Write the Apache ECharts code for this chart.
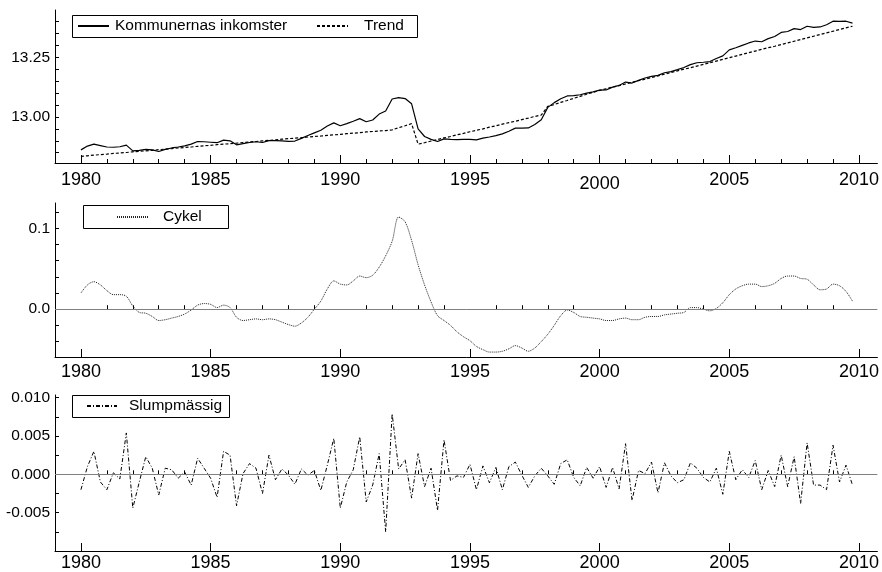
<!DOCTYPE html>
<html>
<head>
<meta charset="utf-8">
<script src="https://cdn.jsdelivr.net/npm/echarts@6/dist/echarts.min.js"></script>
<style>
html,body{margin:0;padding:0;background:#fff;}
#chart{width:882px;height:572px;}
</style>
</head>
<body>
<div id="chart"></div>
<script>
// Quarterly periods 1980Q1 .. 2009Q4 (decimal years)
const periods = [];
for (let y = 1980; y <= 2009; y++) { for (let q = 0; q < 4; q++) { periods.push(y + q * 0.25); } }

const seriesNames = ['Kommunernas inkomster', 'Trend', 'Cykel', 'Slumpmässig'];

const income = [
12.862,12.878,12.886,12.880,
12.874,12.873,12.875,12.882,
12.858,12.860,12.864,12.862,
12.855,12.864,12.870,12.874,
12.879,12.886,12.897,12.896,
12.894,12.892,12.903,12.900,
12.883,12.888,12.893,12.896,
12.893,12.901,12.901,12.900,
12.898,12.899,12.910,12.922,
12.933,12.944,12.962,12.975,
12.963,12.972,12.982,12.993,
12.980,12.987,13.012,13.025,
13.075,13.081,13.077,13.055,
12.950,12.918,12.906,12.897,
12.908,12.906,12.905,12.906,
12.906,12.904,12.911,12.916,
12.922,12.929,12.940,12.953,
12.953,12.954,12.968,12.988,
13.040,13.060,13.076,13.088,
13.089,13.093,13.100,13.105,
13.112,13.113,13.125,13.132,
13.146,13.142,13.153,13.163,
13.170,13.174,13.185,13.190,
13.198,13.207,13.219,13.227,
13.229,13.232,13.245,13.256,
13.281,13.290,13.300,13.310,
13.318,13.315,13.328,13.337,
13.354,13.358,13.370,13.366,
13.380,13.375,13.377,13.386,
13.401,13.400,13.401,13.393];

const trend = [
12.835,12.837,12.840,12.842,
12.844,12.847,12.849,12.851,
12.854,12.856,12.858,12.860,
12.863,12.865,12.867,12.870,
12.872,12.874,12.877,12.879,
12.881,12.884,12.886,12.888,
12.890,12.893,12.895,12.897,
12.900,12.902,12.904,12.907,
12.909,12.911,12.913,12.916,
12.918,12.920,12.923,12.925,
12.927,12.930,12.932,12.934,
12.937,12.939,12.941,12.943,
12.946,12.955,12.963,12.972,
12.886,12.892,12.899,12.905,
12.912,12.918,12.925,12.931,
12.938,12.944,12.950,12.957,
12.963,12.970,12.976,12.982,
12.989,12.995,13.002,13.008,
13.044,13.052,13.061,13.069,
13.078,13.086,13.095,13.103,
13.111,13.118,13.125,13.131,
13.138,13.145,13.152,13.158,
13.165,13.172,13.179,13.186,
13.193,13.200,13.206,13.213,
13.220,13.227,13.234,13.241,
13.248,13.255,13.262,13.269,
13.276,13.283,13.290,13.296,
13.303,13.310,13.317,13.324,
13.331,13.338,13.345,13.352,
13.359,13.366,13.373,13.380];

const cycle = [
0.020,0.030,0.034,0.030,
0.023,0.018,0.018,0.016,
0.004,-0.004,-0.005,-0.009,
-0.014,-0.013,-0.011,-0.009,
-0.006,-0.001,0.005,0.007,
0.006,0.002,0.005,0.002,
-0.010,-0.014,-0.013,-0.012,
-0.013,-0.012,-0.013,-0.016,
-0.019,-0.021,-0.017,-0.010,
0.000,0.010,0.025,0.035,
0.031,0.030,0.035,0.041,
0.039,0.042,0.052,0.066,
0.084,0.114,0.108,0.085,
0.055,0.030,0.009,-0.008,
-0.014,-0.020,-0.028,-0.034,
-0.039,-0.046,-0.050,-0.053,
-0.053,-0.052,-0.049,-0.045,
-0.048,-0.052,-0.048,-0.040,
-0.031,-0.020,-0.008,-0.001,
-0.004,-0.009,-0.010,-0.011,
-0.012,-0.014,-0.014,-0.012,
-0.011,-0.013,-0.013,-0.010,
-0.009,-0.009,-0.007,-0.006,
-0.005,-0.004,0.002,0.002,
0.000,-0.002,0.001,0.008,
0.018,0.025,0.029,0.031,
0.031,0.028,0.029,0.032,
0.038,0.041,0.041,0.038,
0.037,0.030,0.024,0.025,
0.031,0.029,0.022,0.010];

const irregular = [
-0.0020,0.0010,0.0030,-0.0010,
-0.0020,0.0002,-0.0006,0.0054,
-0.0044,-0.0010,0.0023,0.0008,
-0.0027,0.0008,0.0006,-0.0005,
0.0003,-0.0014,0.0021,0.0008,
-0.0005,-0.0030,0.0030,0.0025,
-0.0041,0.0001,0.0014,0.0008,
-0.0025,0.0025,-0.0007,0.0007,
-0.0001,-0.0013,0.0007,-0.0001,
0.0005,-0.0021,0.0012,0.0047,
-0.0044,-0.0010,0.0006,0.0049,
-0.0036,-0.0014,0.0027,-0.0075,
0.0079,0.0007,0.0019,-0.0031,
0.0027,-0.0016,0.0008,-0.0047,
0.0045,-0.0008,-0.0002,-0.0004,
0.0013,-0.0020,0.0011,-0.0011,
0.0009,-0.0020,0.0010,0.0016,
-0.0001,-0.0017,-0.0002,0.0008,
-0.0002,-0.0013,0.0014,0.0019,
-0.0004,-0.0015,0.0009,-0.0005,
0.0010,-0.0017,0.0009,-0.0019,
0.0040,-0.0034,0.0005,0.0001,
0.0016,-0.0024,0.0015,-0.0002,
-0.0011,-0.0007,0.0015,0.0008,
-0.0004,-0.0010,0.0008,-0.0026,
0.0030,-0.0007,0.0006,-0.0004,
0.0018,-0.0020,0.0005,-0.0016,
0.0025,-0.0016,0.0023,-0.0038,
0.0041,-0.0014,-0.0014,-0.0020,
0.0038,-0.0010,0.0012,-0.0014];

// Axis tick / label values
const xMajor = [1980, 1985, 1990, 1995, 2000, 2005, 2010];
const xMinor = [];
for (let y = 1979; y <= 2010; y++) { if (xMajor.indexOf(y) < 0) xMinor.push(y); }
const y1Ticks = [12.85,12.90,12.95,13.00,13.05,13.10,13.15,13.20,13.25,13.30,13.35,13.40];
const y1Labels = [13.00, 13.25];
const y2Ticks = [-0.04,-0.02,0,0.02,0.04,0.06,0.08,0.10,0.12];
const y2Labels = [0, 0.1];
const y3Ticks = [-0.0075,-0.005,-0.0025,0,0.0025,0.005,0.0075,0.01];
const y3Labels = [-0.005, 0, 0.005, 0.01];

const FONT = "'Liberation Sans', Arial, sans-serif";
const XMIN = 1979.0, XMAX = 2010.71;

const grids = [
  {left: 55, top: 10, width: 827, height: 153},
  {left: 55, top: 203, width: 827, height: 154},
  {left: 55, top: 395, width: 827, height: 156}
];

function mainX(gi, margin, labelFmt) {
  return {
    type: 'value', gridIndex: gi, min: XMIN, max: XMAX, position: 'bottom',
    axisLine: {show: true, onZero: false, lineStyle: {color: '#000', width: 1}},
    axisTick: {show: true, inside: true, length: 8, customValues: xMajor, lineStyle: {color: '#000', width: 1}},
    axisLabel: {show: true, customValues: xMajor, margin: margin, fontSize: 18, color: '#000', fontFamily: FONT,
      formatter: labelFmt || (v => String(v)),
      rich: {low: {fontSize: 18, color: '#000', fontFamily: FONT, lineHeight: 26}}},
    splitLine: {show: false}
  };
}
function minorX(gi) {
  return {
    type: 'value', gridIndex: gi, min: XMIN, max: XMAX, position: 'bottom', offset: 0,
    axisLine: {show: false},
    axisTick: {show: true, inside: true, length: 4, customValues: xMinor, lineStyle: {color: '#000', width: 1}},
    axisLabel: {show: false},
    splitLine: {show: false}
  };
}
function yAx(gi, min, max, ticks, labels, dec) {
  return {
    type: 'value', gridIndex: gi, min: min, max: max, position: 'left',
    axisLine: {show: true, onZero: false, lineStyle: {color: '#000', width: 1}},
    axisTick: {show: true, inside: true, length: 4, customValues: ticks, lineStyle: {color: '#000', width: 1}},
    axisLabel: {show: true, customValues: labels, margin: 5, fontSize: 15.5, color: '#000', fontFamily: FONT,
      formatter: v => Number(v).toFixed(dec)},
    splitLine: {show: false}
  };
}

const zeroLine = {
  silent: true, symbol: ['none', 'none'], label: {show: false},
  lineStyle: {color: '#808080', width: 1, type: 'solid'},
  emphasis: {disabled: true},
  data: [{yAxis: 0}]
};

function pairs(arr) { return periods.map((p, i) => [p, arr[i]]); }

const legendText = {fontSize: 15.5, color: '#000', fontFamily: FONT};
function legendOf(name, left, top, w, pad) {
  return {data: [name], left: left, top: top, padding: 0, itemWidth: w, itemHeight: 14,
    itemStyle: {opacity: 0}, textStyle: Object.assign({padding: [0, 0, 0, pad]}, legendText),
    selectedMode: false, z: 10};
}

const option = {
  animation: false,
  backgroundColor: '#fff',
  grid: grids,
  xAxis: [
    mainX(0, 8, v => (v === 2000 ? '{low|2000}' : String(v))),
    mainX(1, 6), mainX(2, 3),
    minorX(0), minorX(1), minorX(2)
  ],
  yAxis: [
    yAx(0, 12.807, 13.448, y1Ticks, y1Labels, 2),
    yAx(1, -0.0591, 0.1313, y2Ticks, y2Labels, 1),
    yAx(2, -0.0100, 0.01035, y3Ticks, y3Labels, 3)
  ],
  graphic: [
    {type: 'rect', shape: {x: 72.5, y: 15.5, width: 345, height: 22}, style: {fill: '#fff', stroke: '#000', lineWidth: 1}, z: 5},
    {type: 'rect', shape: {x: 83.5, y: 205.5, width: 145, height: 23}, style: {fill: '#fff', stroke: '#000', lineWidth: 1}, z: 5},
    {type: 'rect', shape: {x: 72.5, y: 395.5, width: 157, height: 22}, style: {fill: '#fff', stroke: '#000', lineWidth: 1}, z: 5}
  ],
  legend: [
    legendOf(seriesNames[0], 77, 18, 31, 1),
    legendOf(seriesNames[1], 316, 18, 31, 11),
    legendOf(seriesNames[2], 116, 209, 32, 9),
    legendOf(seriesNames[3], 86, 398, 30, 7)
  ],
  series: [
    {name: seriesNames[0], type: 'line', xAxisIndex: 0, yAxisIndex: 0, data: pairs(income),
      showSymbol: false, symbol: 'none', lineStyle: {color: '#000', width: 1.2, type: 'solid'}, itemStyle: {color: '#000'}},
    {name: seriesNames[1], type: 'line', xAxisIndex: 0, yAxisIndex: 0, data: pairs(trend),
      showSymbol: false, symbol: 'none', lineStyle: {color: '#000', width: 1.2, type: [3, 2]}, itemStyle: {color: '#000'}},
    {name: seriesNames[2], type: 'line', xAxisIndex: 1, yAxisIndex: 1, data: pairs(cycle),
      showSymbol: false, symbol: 'none', smooth: 0.3, lineStyle: {color: '#222', width: 1, type: [1, 1]}, itemStyle: {color: '#222'},
      markLine: zeroLine},
    {name: seriesNames[3], type: 'line', xAxisIndex: 2, yAxisIndex: 2, data: pairs(irregular),
      showSymbol: false, symbol: 'none', lineStyle: {color: '#000', width: 1, type: [4, 2, 1, 2]}, itemStyle: {color: '#000'},
      markLine: zeroLine}
  ]
};

const chart = echarts.init(document.getElementById('chart'), null, {renderer: 'canvas'});
chart.setOption(option);
</script>
</body>
</html>
